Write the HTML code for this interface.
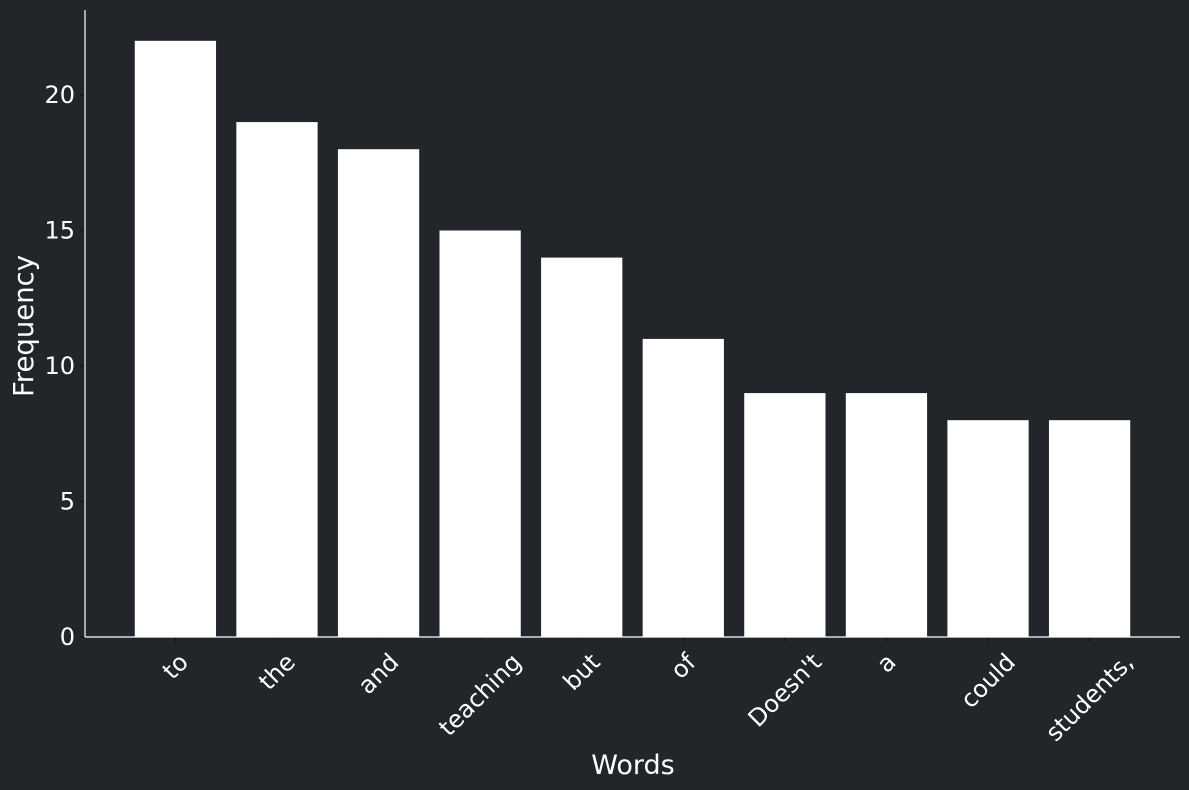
<!DOCTYPE html>
<html><head><meta charset="utf-8"><style>
html,body{margin:0;padding:0;background:#22252a;}
svg{display:block;font-family:"DejaVu Sans","Liberation Sans",sans-serif;}
</style></head><body>
<svg id="chart" width="1189" height="790">
<rect width="1189" height="790" fill="#22252a"/>
<g id="marks"></g>
</svg>
<script>
const categories = ["to","the","and","teaching","but","of","Doesn't","a","could","students,"];
const values = [22,19,18,15,14,11,9,9,8,8];
const yTicks = [0,5,10,15,20];
const NS="http://www.w3.org/2000/svg";
const L=85,R=1180,T=10,B=637;
const step=(R-L)/(categories.length-1+1.78);
const x=i=>L+(i+0.89)*step;
const y=v=>B-v*27.1;
const g=document.getElementById('marks');
function mk(t,a){const e=document.createElementNS(NS,t);for(const k in a)e.setAttribute(k,a[k]);g.appendChild(e);return e;}
categories.forEach((c,i)=>{
  const r=mk('rect',{x:x(i)-step*0.4,y:y(values[i]),width:step*0.8,height:B-y(values[i]),fill:'#ffffff'});
  
  
  const tk=mk('line',{x1:x(i),x2:x(i),y1:B,y2:B+5,stroke:'#111'});
  
  
  const t=mk('text',{x:0,y:0,fill:'#fff','font-size':24,'text-anchor':'middle','dominant-baseline':'central'});
  t.textContent=c;
  
  
  const bb=t.getBBox();
  const half=(bb.width+bb.height)/(2*Math.SQRT2);
  const cy=B+11+half;
  t.setAttribute('transform',`translate(${x(i)} ${cy}) rotate(-45)`);
});
yTicks.forEach(v=>{
  const tk=mk('line',{x1:L-5,x2:L,y1:y(v),y2:y(v),stroke:'#111'});
  
  
  const t=mk('text',{x:L-10,y:y(v)+8,fill:'#fff','font-size':24,'text-anchor':'end'});
  t.textContent=v;
  
  
});
const ls=mk('line',{x1:L,x2:L,y1:T,y2:B,stroke:'#fff','stroke-width':1.2});


const bs=mk('line',{x1:L,x2:R,y1:B,y2:B,stroke:'#fff','stroke-width':1.2});


const xt=mk('text',{x:633,y:774,fill:'#fff','font-size':27,'text-anchor':'middle'});
xt.textContent='Words';


const yt=mk('text',{x:33,y:326,fill:'#fff','font-size':27.5,'text-anchor':'middle',transform:'rotate(-90 33 326)'});
yt.textContent='Frequency';


</script>
</body></html>
